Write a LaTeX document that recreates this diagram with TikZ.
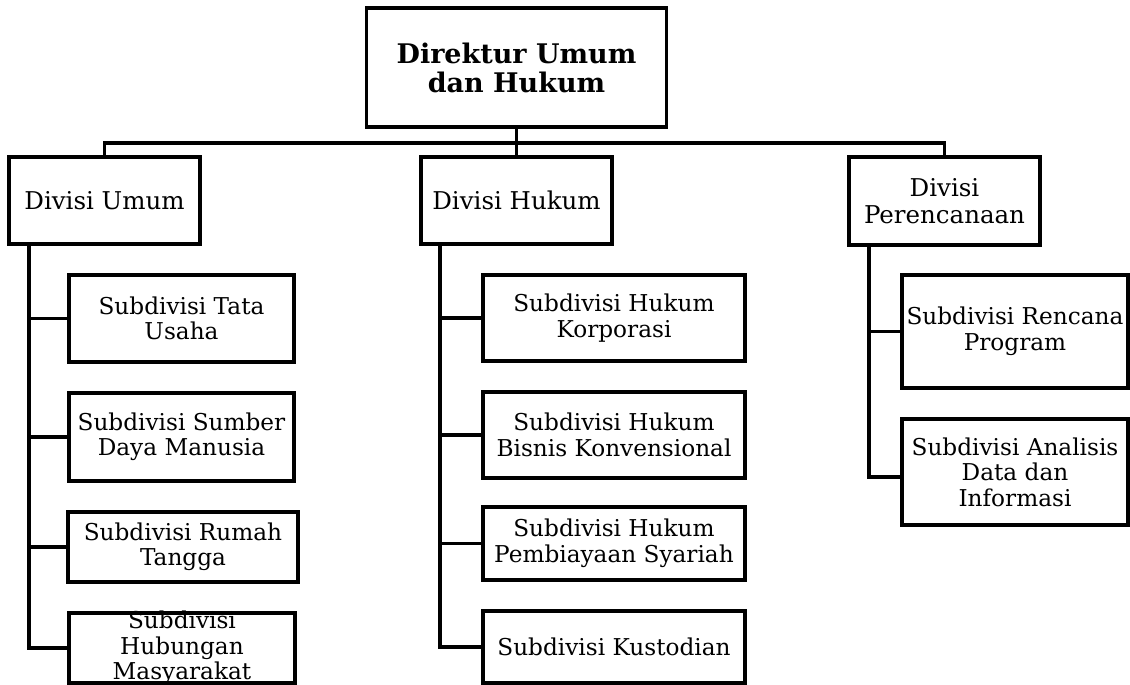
\documentclass[tikz,border=0pt]{standalone}
\usepackage{fontspec}
\setmainfont{DejaVu Serif}
\begin{document}
\begin{tikzpicture}[x=1pt,y=-1pt,
  box/.style={draw, line width=3.4pt, rectangle, inner sep=0pt, align=center, minimum width=#1},
  box/.default=191,
  txt/.style={font=\fontsize{23.2}{25.5}\selectfont},
  dtxt/.style={font=\fontsize{24.5}{27}\selectfont},
  ttl/.style={font=\bfseries\fontsize{27}{29}\selectfont},
  conn/.style={line width=3.4pt}]
\useasboundingbox (0,0) rectangle (1130,685);
\begin{scope}
\clip (0,0) rectangle (1130,685);
% top
\node[box=300, minimum height=119, ttl] (top) at (516.5,67.5) {Direktur Umum\\dan Hukum};
% divisions
\node[box, minimum height=87, dtxt] (umum) at (104.5,200.5) {Divisi Umum};
\node[box, minimum height=87, dtxt] (hukum) at (516.5,200.5) {Divisi Hukum};
\node[box, minimum height=88, dtxt] (peren) at (944.5,201) {Divisi\\Perencanaan};
% Umum subdivisions
\node[box=225, minimum height=87, txt] (tata) at (181.5,318.5) {Subdivisi Tata\\Usaha};
\node[box=225, minimum height=88, txt] (sdm) at (181.5,437) {Subdivisi Sumber\\Daya Manusia};
\node[box=230, minimum height=70, txt] (rt) at (183,547) {Subdivisi Rumah\\Tangga};
\node[box=226, minimum height=70] (humas) at (182,648) {};
\node[txt, align=center, inner sep=0pt] (humasT) at (humas.center) {Subdivisi\\Hubungan\\Masyarakat};
% Hukum subdivisions
\node[box=262, minimum height=86, txt] (korp) at (614,318) {Subdivisi Hukum\\Korporasi};
\node[box=262, minimum height=86, txt] (bisnis) at (614,435) {Subdivisi Hukum\\Bisnis Konvensional};
\node[box=262, minimum height=73, txt] (syariah) at (614,543.5) {Subdivisi Hukum\\Pembiayaan Syariah};
\node[box=262, minimum height=72, txt] (kust) at (614,647) {Subdivisi Kustodian};
% Perencanaan subdivisions
\node[box=226, minimum height=113, txt] (rencana) at (1015,331.5) {Subdivisi Rencana\\Program};
\node[box=226, minimum height=106, txt] (analisis) at (1015,472) {Subdivisi Analisis\\Data dan\\Informasi};
% connectors
\coordinate (bus) at (516.5,143);
\coordinate (tU) at (29,0);
\coordinate (tH) at (440,0);
\coordinate (tP) at (869,0);
\draw[conn] (top.south) -- (hukum.north);
\draw[conn] (umum.north) |- (bus) -| (peren.north);
\draw[conn] (umum.south -| tU) |- (humas.west);
\draw[conn] (tata.west) -- (tata.west -| tU);
\draw[conn] (sdm.west) -- (sdm.west -| tU);
\draw[conn] (rt.west) -- (rt.west -| tU);
\draw[conn] (hukum.south -| tH) |- (kust.west);
\draw[conn] (korp.west) -- (korp.west -| tH);
\draw[conn] (bisnis.west) -- (bisnis.west -| tH);
\draw[conn] (syariah.west) -- (syariah.west -| tH);
\draw[conn] (peren.south -| tP) |- ([yshift=-5pt]analisis.west);
\draw[conn] (rencana.west) -- (rencana.west -| tP);
\end{scope}
\end{tikzpicture}
\end{document}
